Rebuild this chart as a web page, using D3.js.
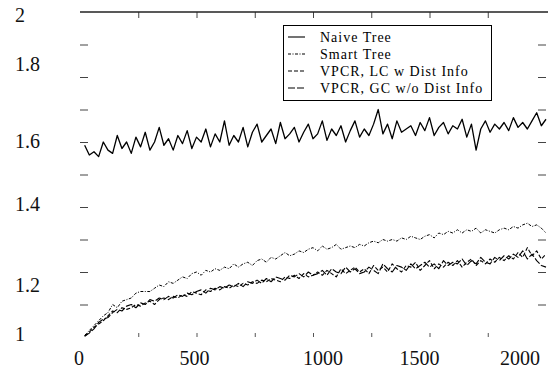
<!DOCTYPE html>
<html><head><meta charset="utf-8">
<script src="https://cdn.jsdelivr.net/npm/d3@7/dist/d3.min.js"></script>
<style>body{margin:0;background:#fff;}svg{display:block;} text{font-family:"Liberation Serif","Times New Roman",Times,"DejaVu Serif",serif;}</style>
</head><body><svg id="c" width="548" height="372"></svg>
<script>
const xValues = [20,40,60,80,100,120,140,160,180,200,220,240,260,280,300,320,340,360,380,400,420,440,460,480,500,520,540,560,580,600,620,640,660,680,700,720,740,760,780,800,820,840,860,880,900,920,940,960,980,1000,1020,1040,1060,1080,1100,1120,1140,1160,1180,1200,1220,1240,1260,1280,1300,1320,1340,1360,1380,1400,1420,1440,1460,1480,1500,1520,1540,1560,1580,1600,1620,1640,1660,1680,1700,1720,1740,1760,1780,1800,1820,1840,1860,1880,1900,1920,1940,1960,1980,2000];
const naiveTree = [1.59,1.56,1.57,1.555,1.60,1.575,1.565,1.62,1.58,1.60,
 1.565,1.615,1.585,1.63,1.575,1.60,1.645,1.59,1.61,1.575,
 1.62,1.595,1.635,1.58,1.615,1.60,1.64,1.585,1.625,1.60,
 1.665,1.59,1.62,1.60,1.645,1.585,1.63,1.655,1.60,1.62,
 1.64,1.595,1.66,1.61,1.625,1.645,1.60,1.63,1.655,1.61,
 1.625,1.665,1.605,1.64,1.62,1.65,1.60,1.635,1.665,1.615,
 1.64,1.62,1.655,1.70,1.625,1.655,1.61,1.665,1.63,1.64,
 1.65,1.62,1.66,1.635,1.675,1.62,1.645,1.66,1.625,1.65,
 1.64,1.67,1.615,1.655,1.575,1.64,1.665,1.63,1.655,1.64,
 1.66,1.635,1.675,1.645,1.66,1.64,1.665,1.69,1.65,1.67];
const smartTree = [1.005,1.02,1.035,1.05,1.065,1.075,1.10,1.09,1.11,1.115,
 1.12,1.135,1.14,1.14,1.14,1.15,1.16,1.155,1.17,1.165,
 1.175,1.185,1.18,1.195,1.20,1.19,1.205,1.20,1.21,1.205,
 1.215,1.21,1.225,1.215,1.225,1.23,1.22,1.235,1.24,1.23,
 1.245,1.24,1.25,1.26,1.25,1.255,1.265,1.26,1.27,1.275,
 1.265,1.28,1.27,1.275,1.285,1.27,1.275,1.28,1.275,1.285,
 1.28,1.29,1.295,1.29,1.30,1.295,1.30,1.295,1.305,1.30,
 1.31,1.305,1.30,1.31,1.315,1.305,1.32,1.315,1.325,1.32,
 1.33,1.32,1.33,1.325,1.335,1.32,1.33,1.325,1.32,1.33,
 1.335,1.33,1.34,1.335,1.345,1.35,1.34,1.345,1.335,1.32];
const vpcrLC = [1.003,1.015,1.03,1.04,1.05,1.065,1.08,1.075,1.09,1.085,
 1.09,1.10,1.095,1.105,1.11,1.10,1.115,1.12,1.115,1.125,
 1.12,1.13,1.125,1.14,1.135,1.13,1.145,1.14,1.15,1.145,
 1.155,1.15,1.16,1.155,1.165,1.16,1.17,1.165,1.175,1.17,
 1.18,1.175,1.17,1.185,1.18,1.19,1.18,1.195,1.185,1.19,
 1.20,1.19,1.205,1.195,1.185,1.21,1.195,1.205,1.215,1.20,
 1.21,1.195,1.22,1.205,1.215,1.20,1.225,1.21,1.20,1.22,
 1.215,1.23,1.205,1.22,1.235,1.21,1.225,1.215,1.23,1.22,
 1.235,1.215,1.23,1.24,1.22,1.235,1.225,1.24,1.23,1.245,
 1.235,1.25,1.24,1.26,1.245,1.275,1.25,1.265,1.24,1.255];
const vpcrGC = [1.002,1.012,1.025,1.045,1.055,1.06,1.075,1.085,1.08,1.095,
 1.10,1.09,1.105,1.10,1.115,1.11,1.12,1.115,1.125,1.12,
 1.13,1.125,1.135,1.13,1.14,1.145,1.135,1.15,1.145,1.155,
 1.15,1.16,1.155,1.165,1.155,1.17,1.165,1.175,1.165,1.18,
 1.17,1.185,1.18,1.175,1.19,1.185,1.195,1.185,1.20,1.19,
 1.195,1.205,1.19,1.21,1.20,1.195,1.215,1.20,1.21,1.195,
 1.20,1.215,1.205,1.195,1.225,1.21,1.20,1.22,1.215,1.205,
 1.225,1.21,1.22,1.23,1.215,1.225,1.21,1.235,1.22,1.23,
 1.225,1.24,1.22,1.235,1.225,1.245,1.23,1.225,1.245,1.235,
 1.25,1.24,1.255,1.245,1.265,1.24,1.255,1.235,1.22,1.215];
const seriesNames = ["Naive Tree","Smart Tree","VPCR, LC w Dist Info","VPCR, GC w/o Dist Info"];
const xTickLabels = [0,500,1000,1500,2000];
const yTickLabels = [1,1.2,1.4,1.6,1.8,2];
const xMinorTicks = [250,500,750,1000,1250,1500,1750];
const yMinorTicks = [1.1,1.2,1.3,1.4,1.5,1.6,1.7,1.8,1.9];

// layout / style (not data)
const xLabelNudge = [-1,-2,10,-10,-26];
const yLabelNudge = [-3,13,-3,-1,-13,3];
const dashes = [null,"3,1.5,1,1.5","4,2","7,2"];
const widths = [1.3,1,1.1,1.1];

const svg = d3.select("#c");
const x = d3.scaleLinear().domain([0,2000]).range([80,546]);
const y = d3.scaleLinear().domain([1,2]).range([337,12]);

// top axis line with ticks
const gTop = svg.append("g").attr("transform","translate(0,12)")
  .call(d3.axisBottom(x).tickValues(xMinorTicks).tickSize(6).tickSizeOuter(0).tickFormat(""));
gTop.select(".domain").remove();
svg.append("line").attr("x1",80).attr("x2",548).attr("y1",12).attr("y2",12)
  .attr("stroke","#222").attr("stroke-width",1.6);
gTop.selectAll(".tick line").attr("stroke","#444");

// bottom ticks (no line)
const gBot = svg.append("g").attr("transform","translate(0,337)")
  .call(d3.axisTop(x).tickValues(xMinorTicks).tickSize(4).tickSizeOuter(0).tickFormat(""));
gBot.select(".domain").remove();
gBot.selectAll(".tick line").attr("stroke","#555");

// left ticks
const gL = svg.append("g").attr("transform","translate(80,0)")
  .call(d3.axisRight(y).tickValues(yMinorTicks).tickSize(8).tickFormat(""));
gL.select(".domain").remove();
gL.selectAll(".tick line").attr("stroke","#444");
// right ticks
const gR = svg.append("g").attr("transform","translate(546,0)")
  .call(d3.axisLeft(y).tickValues(yMinorTicks).tickSize(8).tickFormat(""));
gR.select(".domain").remove();
gR.selectAll(".tick line").attr("stroke","#444");

// tick labels
svg.append("g").selectAll("text").data(xTickLabels).join("text")
  .attr("x",(d,i)=>x(d)+xLabelNudge[i]).attr("y",358)
  .attr("text-anchor","middle").attr("dominant-baseline","central")
  .attr("font-size",20).attr("fill","#111").text(d=>d);
svg.append("g").selectAll("text").data(yTickLabels).join("text")
  .attr("x",15).attr("y",(d,i)=>y(d)+yLabelNudge[i])
  .attr("text-anchor","start").attr("dominant-baseline","central")
  .attr("font-size",20).attr("fill","#111").text(d=>d);

// lines
const allSeries = [naiveTree, smartTree, vpcrLC, vpcrGC];
const line = d3.line().x((d,i)=>x(xValues[i])).y(d=>y(d));
svg.append("g").selectAll("path").data(allSeries).join("path")
  .attr("d",line).attr("fill","none").attr("stroke","#000")
  .attr("stroke-width",(d,i)=>widths[i])
  .attr("stroke-dasharray",(d,i)=>dashes[i])
  .attr("stroke-linejoin","round");

// legend
const lg = svg.append("g");
lg.append("rect").attr("x",283.5).attr("y",25.5).attr("width",208).attr("height",75)
  .attr("fill","#fff").attr("stroke","#000").attr("stroke-width",1);
const rows = [37,54,71,88];
seriesNames.forEach((n,i)=>{
  lg.append("line").attr("x1",288).attr("x2",305).attr("y1",rows[i]).attr("y2",rows[i])
    .attr("stroke","#000").attr("stroke-width",1.1).attr("stroke-dasharray",dashes[i]);
  lg.append("text").attr("x",320).attr("y",rows[i]).attr("dominant-baseline","central")
    .attr("font-size",14).attr("letter-spacing",1)
    .attr("fill","#000").text(n);
});
</script></body></html>
